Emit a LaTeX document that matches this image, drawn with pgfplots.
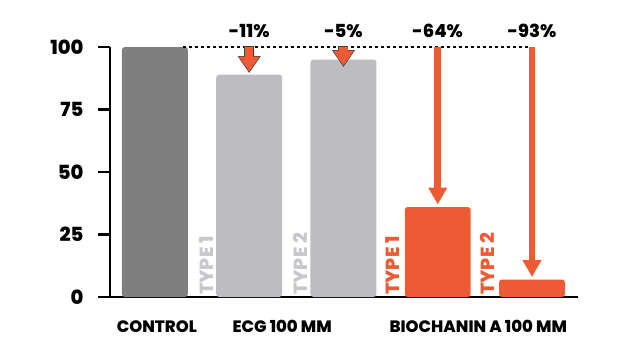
\documentclass[border=0pt]{standalone}
\usepackage{pgfplots}
\pgfplotsset{compat=1.18}
\usepackage{fontspec}
\setmainfont{Poppins}[BoldFont={Poppins ExtraBold}]
\usetikzlibrary{arrows.meta}
\definecolor{ctrl}{HTML}{7F7F7F}
\definecolor{ecg}{HTML}{BDBDC1}
\definecolor{org}{HTML}{EE5A33}
\definecolor{typegrey}{HTML}{C8C8CC}
\tikzset{
  pct/.style={font=\fontsize{18}{21}\selectfont\bfseries},
  typelab/.style={rotate=90, anchor=base west, font=\fontsize{19}{22}\selectfont\bfseries, inner sep=0pt},
  outl/.style={black!75, line width=10pt, -{Triangle[width=22pt,length=17pt]}},
  inarr/.style={org, line width=8.5pt, -{Triangle[width=19.5pt,length=15pt]}},
  longarr/.style={org, line width=6.5pt, -{Triangle[width=18pt,length=17pt]}},
}
\begin{document}
\begin{tikzpicture}
\begin{axis}[name=ax, scale only axis, width=468pt, height=250pt,
  xmin=-0.477, xmax=4.488, ymin=0, ymax=100, clip=false,
  axis lines=left, axis line style={-, line width=2.5pt},
  ytick={0,25,50,75,100}, tick align=outside,
  ytick style={line width=2.5pt, black}, major tick length=12pt,
  xtick={0.02,1.35,3.43},
  xticklabels={CONTROL, ECG 100 MM, BIOCHANIN A 100 MM},
  xtick style={draw=none},
  /pgf/number format/assume math mode=true,
  yticklabel style={font=\fontsize{19.5}{22}\selectfont\bfseries, xshift=-11pt},
  xticklabel style={font=\fontsize{16.5}{19}\selectfont\bfseries, yshift=-8pt},
]
\addplot[ybar, bar shift=0pt, bar width=0.7, fill=ctrl, draw=none, rounded corners=3pt] coordinates {(0,100)};
\addplot[ybar, bar shift=0pt, bar width=0.7, fill=ecg, draw=none, rounded corners=3pt] coordinates {(1,89) (2,95)};
\addplot[ybar, bar shift=0pt, bar width=0.7, fill=org, draw=none, rounded corners=3pt] coordinates {(3,36) (4,7)};
% dashed reference line
\draw[dash pattern=on 3pt off 3pt, line width=1.3pt] (axis cs:0.30,100) -- (axis cs:3.96,100);
% short arrows with outline
\draw[outl] ([yshift=1pt]axis cs:1,100) -- (axis cs:1,89.6);
\draw[inarr] (axis cs:1,100) -- ([yshift=1.3pt]axis cs:1,89.6);
\draw[outl] ([yshift=1pt]axis cs:2,100) -- (axis cs:2,92);
\draw[inarr] (axis cs:2,100) -- ([yshift=1.3pt]axis cs:2,92);
% long arrows
\draw[longarr] (axis cs:3,100) -- (axis cs:3,37);
\draw[longarr] (axis cs:4,100) -- (axis cs:4,8);
% percent labels
\node[pct] at ([yshift=16pt]axis cs:1,100) {-11\%};
\node[pct] at ([yshift=16pt]axis cs:2,100) {-5\%};
\node[pct] at ([yshift=16pt]axis cs:3,100) {-64\%};
\node[pct] at ([yshift=16pt]axis cs:4,100) {-93\%};
% type labels
\node[typelab, text=typegrey] at ([xshift=-3pt, yshift=2pt]axis cs:0.65,0) {TYPE 1};
\node[typelab, text=typegrey] at ([xshift=-3pt, yshift=2pt]axis cs:1.65,0) {TYPE 2};
\node[typelab, text=org] at ([xshift=-5pt, yshift=2pt]axis cs:2.65,0) {TYPE 1};
\node[typelab, text=org] at ([xshift=-5pt, yshift=2pt]axis cs:3.65,0) {TYPE 2};
\end{axis}
\pgfresetboundingbox
\path[use as bounding box] (ax.south west) ++(-110pt,-60pt) rectangle ++(642pt,357pt);
\end{tikzpicture}
\end{document}
